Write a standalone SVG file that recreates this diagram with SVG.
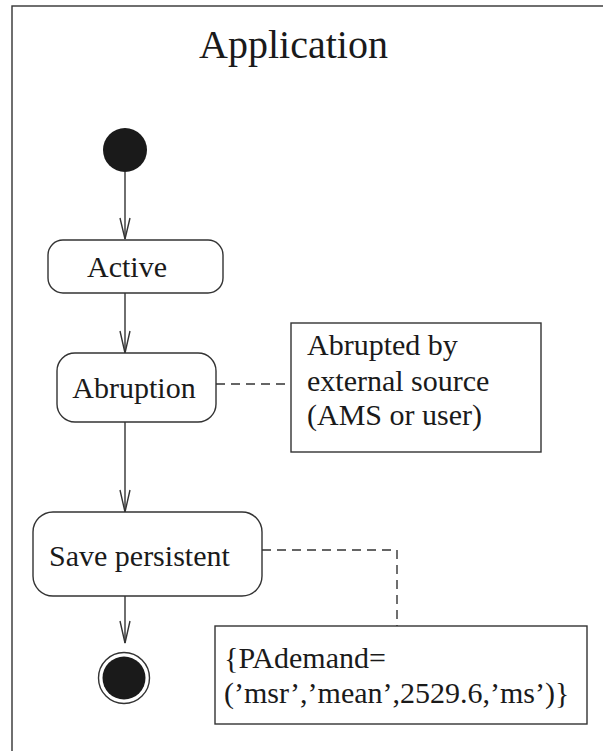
<svg xmlns="http://www.w3.org/2000/svg" width="603" height="751" viewBox="0 0 603 751">
<defs>
<style>
.ln{stroke:#333;stroke-width:1.4;fill:none}
.box{stroke:#333;stroke-width:1.4;fill:#fff}
.dash{stroke:#333;stroke-width:1.4;fill:none;stroke-dasharray:9 6}
.t{font-family:"Liberation Serif","Times New Roman",serif;fill:#1a1a1a}
.s{font-size:30px}
</style>
</defs>
<rect width="603" height="751" fill="#fff"/>
<g id="frame">
<rect x="12" y="6" width="620" height="780" class="ln"/>
<text x="293.5" y="58" text-anchor="middle" class="t" font-size="40" font-family="Liberation Serif, serif">Application</text>
</g>
<g id="connectors">
<line x1="125" y1="172" x2="125" y2="239" class="ln"/>
<path d="M120,218 L125,239 L130,218" class="ln"/>
<line x1="125" y1="293" x2="125" y2="353" class="ln"/>
<path d="M120,331 L125,353 L130,331" class="ln"/>
<line x1="125" y1="422" x2="125" y2="512" class="ln"/>
<path d="M120,490 L125,512 L130,490" class="ln"/>
<line x1="125" y1="596" x2="125" y2="643" class="ln"/>
<path d="M120,621 L125,643 L130,621" class="ln"/>
<line x1="216" y1="384" x2="291" y2="384" class="dash"/>
<path d="M262,550 L397,550 L397,626" class="dash"/>
</g>
<g id="start">
<circle cx="125" cy="150" r="22" fill="#1a1a1a"/>
</g>
<g id="active">
<rect x="48" y="240" width="175" height="53" rx="15" class="box"/>
<text x="127" y="277" text-anchor="middle" class="t s" font-family="Liberation Serif, serif">Active</text>
</g>
<g id="abruption">
<rect x="57" y="353" width="159" height="69" rx="18" class="box"/>
<text x="134" y="398" text-anchor="middle" class="t s" font-family="Liberation Serif, serif">Abruption</text>
</g>
<g id="note1">
<rect x="291" y="323" width="250" height="129" class="box"/>
<text x="307" y="355" class="t s" font-family="Liberation Serif, serif">Abrupted by</text>
<text x="307" y="391" class="t s" font-family="Liberation Serif, serif">external source</text>
<text x="307" y="425" class="t s" font-family="Liberation Serif, serif">(AMS or user)</text>
</g>
<g id="save">
<rect x="33" y="512" width="229" height="84" rx="20" class="box"/>
<text x="49" y="566" class="t s" font-family="Liberation Serif, serif">Save persistent</text>
</g>
<g id="end">
<circle cx="124" cy="678" r="25.5" fill="#fff" stroke="#333" stroke-width="1.4"/>
<circle cx="124" cy="678" r="21.5" fill="#1a1a1a"/>
</g>
<g id="note2">
<rect x="215" y="626" width="372" height="98" class="box"/>
<text x="224" y="668" class="t s" font-family="Liberation Serif, serif">{PAdemand=</text>
<text x="224" y="703" class="t s" font-family="Liberation Serif, serif">(’msr’,’mean’,2529.6,’ms’)}</text>
</g>
</svg>
